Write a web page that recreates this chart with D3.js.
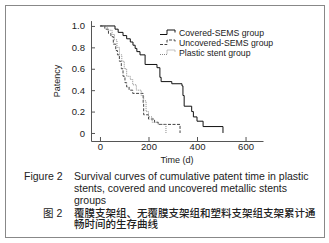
<!DOCTYPE html>
<html>
<head>
<meta charset="utf-8">
<script src="https://cdn.jsdelivr.net/npm/d3@7"></script>
<style>
  body { margin: 0; background: #fff; }
  svg text { font-family: "Liberation Sans", Arial, sans-serif; fill: #222; }
</style>
</head>
<body>
<div id="chart"></div>
<script>
// Kaplan-Meier curves: [time (d), patency]
var coveredData = [[0, 1.0], [62, 0.97], [75, 0.94], [95, 0.91], [110, 0.88], [125, 0.85],
    [136, 0.82], [145, 0.79], [152, 0.76], [165, 0.73], [186, 0.64], [235, 0.61],
    [247, 0.52], [252, 0.48], [296, 0.46], [338, 0.44], [342, 0.35], [347, 0.25],
    [378, 0.20], [385, 0.15], [400, 0.11], [425, 0.06], [507, 0]];
var uncoveredData = [[0, 1.0], [20, 0.97], [35, 0.93], [45, 0.90], [55, 0.83], [65, 0.77],
    [72, 0.73], [80, 0.67], [88, 0.60], [95, 0.53], [103, 0.47], [110, 0.43], [120, 0.40],
    [135, 0.37], [178, 0.27], [180, 0.17], [200, 0.13], [225, 0.10], [240, 0.08], [330, 0]];
var plasticData = [[0, 1.0], [30, 0.96], [50, 0.92], [60, 0.87], [70, 0.80], [80, 0.73],
    [90, 0.67], [100, 0.60], [110, 0.53], [125, 0.50], [135, 0.45], [150, 0.40], [170, 0.35],
    [180, 0.30], [190, 0.20], [200, 0.15], [215, 0.10], [240, 0.08], [272, 0]];

var seriesNames = ["Covered-SEMS group", "Uncovered-SEMS group", "Plastic stent group"];
var xTicks = [0, 200, 400, 600];
var yTicks = [0, 0.2, 0.4, 0.6, 0.8, 1.0];
var captionEn = ["Survival curves of cumulative patent time in plastic",
    "stents, covered and uncovered metallic stents",
    "groups"];
var captionZh = ["覆膜支架组、无覆膜支架组和塑料支架组支架累计通", "畅时间的生存曲线"];

var styles = [
    {color: "#111", dash: null},
    {color: "#444", dash: "3,1.5"},
    {color: "#888", dash: "1,1"}
];

var svg = d3.select("#chart").append("svg")
    .attr("width", 329)
    .attr("height", 243);

// outer frame
svg.append("rect")
    .attr("x", 5.5).attr("y", 5.5)
    .attr("width", 319).attr("height", 232)
    .attr("fill", "none")
    .attr("stroke", "#888")
    .attr("stroke-width", 1);

var x = d3.scaleLinear().domain([-37, 672]).range([91, 263]);
var y = d3.scaleLinear().domain([-0.075, 1.05]).range([141, 20.6]);

var xAxis = svg.append("g")
    .attr("transform", "translate(0,141)")
    .call(d3.axisBottom(x).tickValues(xTicks).tickSizeInner(-4).tickSizeOuter(0).tickPadding(2));
var yAxis = svg.append("g")
    .attr("transform", "translate(91,0)")
    .call(d3.axisLeft(y).tickValues(yTicks).tickSizeInner(-4).tickSizeOuter(0).tickPadding(6)
        .tickFormat(d => d === 0 ? "0" : d3.format(".1f")(d)));

[xAxis, yAxis].forEach(function(a) {
    a.selectAll("path, line").attr("stroke", "#555");
    a.selectAll("text").style("font-size", "9.5px").attr("fill", "#111")
        .style("font-family", "'Liberation Sans', Arial, sans-serif");
});

svg.append("text")
    .attr("x", 177).attr("y", 163)
    .attr("text-anchor", "middle")
    .style("font-size", "9px")
    .text("Time (d)");

svg.append("text")
    .attr("transform", "translate(60,81) rotate(-90)")
    .attr("text-anchor", "middle")
    .style("font-size", "9px")
    .text("Patency");

var line = d3.line()
    .x(d => x(d[0]))
    .y(d => y(d[1]))
    .curve(d3.curveStepAfter);

[coveredData, uncoveredData, plasticData].forEach(function(data, i) {
    svg.append("path")
        .datum(data)
        .attr("d", line)
        .attr("fill", "none")
        .attr("stroke", styles[i].color)
        .attr("stroke-width", 1)
        .attr("stroke-dasharray", styles[i].dash);
});

// legend
var legend = svg.append("g");
seriesNames.forEach(function(name, i) {
    var cy = 33 + i * 10;
    legend.append("path")
        .attr("d", `M160,${cy + 1.5}H167V${cy - 3}H175V${cy - 0.5}`)
        .attr("fill", "none")
        .attr("stroke", styles[i].color)
        .attr("stroke-dasharray", styles[i].dash);
    legend.append("text")
        .attr("x", 179).attr("y", cy + 3)
        .style("font-size", "8.7px")
        .text(name);
});

// caption
svg.append("text")
    .attr("x", 24).attr("y", 179.5)
    .style("font-size", "10.5px")
    .text("Figure 2");
var enText = svg.append("text")
    .style("font-size", "10.5px");
captionEn.forEach(function(t, i) {
    enText.append("tspan")
        .attr("x", 74).attr("y", 179.5 + i * 12)
        .text(t);
});
// Latin font first so the line box stays compact; CJK glyphs fall back to Noto
var zhFont = "'Liberation Sans', 'Noto Sans CJK SC', sans-serif";
svg.append("text")
    .attr("x", 43).attr("y", 216.5)
    .style("font-size", "10.5px")
    .style("font-family", zhFont)
    .text("图 2");
var zhText = svg.append("text")
    .style("font-size", "10.5px")
    .style("font-family", zhFont)
    .style("font-weight", "500")
    .attr("fill", "#111");
captionZh.forEach(function(t, i) {
    zhText.append("tspan")
        .attr("x", 74).attr("y", 216.5 + i * 11.9)
        .text(t);
});
</script>
</body>
</html>
